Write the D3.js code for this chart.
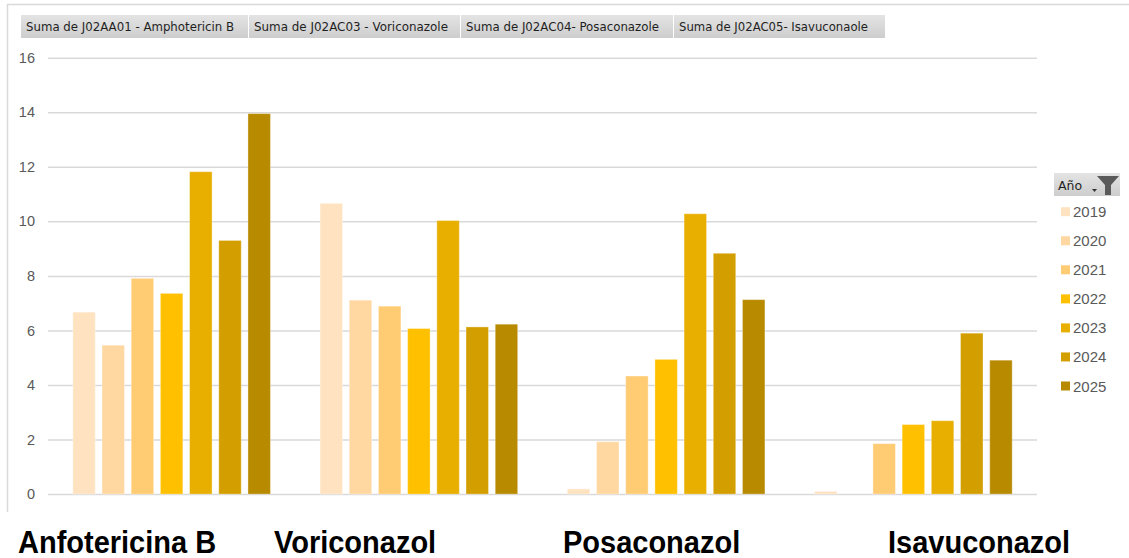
<!DOCTYPE html>
<html>
<head>
<meta charset="utf-8">
<script src="https://cdn.jsdelivr.net/npm/d3@7"></script>
<style>
  html, body { margin: 0; padding: 0; background: #fff; }
  svg { display: block; }
</style>
</head>
<body>
<svg id="chart" width="1129" height="558"></svg>
<script>
// ---- data ----
const categories = ["Anfotericina B", "Voriconazol", "Posaconazol", "Isavuconazol"];
const fieldButtons = ["Suma de J02AA01 - Amphotericin B", "Suma de J02AC03 - Voriconazole", "Suma de J02AC04- Posaconazole", "Suma de J02AC05- Isavuconaole"];
const years = ["2019", "2020", "2021", "2022", "2023", "2024", "2025"];
const v2019 = [6.67, 10.66, 0.19, 0.10];
const v2020 = [5.46, 7.11, 1.92, 0];
const v2021 = [7.91, 6.89, 4.33, 1.85];
const v2022 = [7.36, 6.07, 4.94, 2.55];
const v2023 = [11.82, 10.03, 10.28, 2.69];
const v2024 = [9.30, 6.13, 8.83, 5.90];
const v2025 = [13.95, 6.23, 7.13, 4.91];
const yTicks = [0, 2, 4, 6, 8, 10, 12, 14, 16];
const legendTitle = "Año";

const seriesValues = [v2019, v2020, v2021, v2022, v2023, v2024, v2025];
const colors = ["#FFE3C1", "#FFD8A1", "#FFCB73", "#FFC000", "#E8AF00", "#D29E00", "#B88A00"];

// ---- layout ----
const svg = d3.select("#chart");
const plot = { left: 48, right: 1037, top: 57.7, bottom: 494.1 };

const y = d3.scaleLinear().domain([0, 16]).range([plot.bottom, plot.top]);
const x0 = d3.scaleBand().domain(categories).range([plot.left, plot.right]).padding(0);
const x1 = d3.scaleBand().domain(years).range([0, x0.bandwidth()])
  .paddingInner(0.23).paddingOuter(0.85);
const color = d3.scaleOrdinal().domain(years).range(colors);

// frame lines
svg.append("line").attr("x1", 7).attr("x2", 1129).attr("y1", 4.5).attr("y2", 4.5)
  .attr("stroke", "#d9d9d9").attr("stroke-width", 1.5);
svg.append("line").attr("x1", 7.5).attr("x2", 7.5).attr("y1", 4).attr("y2", 512)
  .attr("stroke", "#d9d9d9").attr("stroke-width", 1.5);

// field buttons
const defs = svg.append("defs");
const grad = defs.append("linearGradient").attr("id", "btnGrad")
  .attr("x1", 0).attr("y1", 0).attr("x2", 0).attr("y2", 1);
grad.append("stop").attr("offset", "0%").attr("stop-color", "#e4e4e4");
grad.append("stop").attr("offset", "100%").attr("stop-color", "#cdcdcd");

const btnX = [21, 249, 461, 674];
const btnW = [227, 211, 212, 211];
const btnTextW = [208, 194, 193, 189];
const btns = svg.append("g").selectAll("g").data(fieldButtons).join("g");
btns.append("rect")
  .attr("x", (d, i) => btnX[i]).attr("y", 15).attr("width", (d, i) => btnW[i]).attr("height", 23)
  .attr("fill", "url(#btnGrad)");
btns.append("text")
  .attr("x", (d, i) => btnX[i] + 5).attr("y", 31)
  .attr("font-family", "DejaVu Sans, Verdana, sans-serif").attr("font-size", 11.5)
  .attr("fill", "#1f1f1f")
  .attr("textLength", (d, i) => btnTextW[i]).attr("lengthAdjust", "spacingAndGlyphs")
  .text(d => d);

// grid lines
const yAxis = d3.axisLeft(y).tickValues(yTicks).tickSize(-(plot.right - plot.left)).tickPadding(13);
const gy = svg.append("g").attr("transform", `translate(${plot.left},0)`).call(yAxis);
gy.select(".domain").remove();
gy.selectAll(".tick line").attr("stroke", "#d9d9d9").attr("stroke-width", 1.5);
gy.selectAll(".tick text").attr("font-family", "Liberation Sans, Arial, sans-serif")
  .attr("font-size", 14.5).attr("fill", "#595959");

// bars
const groups = svg.append("g").selectAll("g").data(categories).join("g")
  .attr("transform", d => `translate(${x0(d)},0)`);
groups.selectAll("rect")
  .data((c, ci) => years.map((yr, si) => ({ year: yr, value: seriesValues[si][ci] })))
  .join("rect")
  .attr("x", d => x1(d.year))
  .attr("width", x1.bandwidth())
  .attr("y", d => y(d.value))
  .attr("height", d => y(0) - y(d.value))
  .attr("fill", d => color(d.year))
  .attr("stroke", "#ffffff").attr("stroke-opacity", 0.35).attr("stroke-width", 1)
  .style("display", d => d.value > 0 ? null : "none");

// legend
const lg = svg.append("g");
lg.append("rect").attr("x", 1054).attr("y", 173).attr("width", 66).attr("height", 23)
  .attr("fill", "url(#btnGrad)");
lg.append("text").attr("x", 1058).attr("y", 190)
  .attr("font-family", "DejaVu Sans, Verdana, sans-serif").attr("font-size", 12.5)
  .attr("fill", "#1f1f1f").text(legendTitle);
lg.append("path").attr("d", "M1092,189 L1097,189 L1094.5,192 Z").attr("fill", "#333");
lg.append("path").attr("d", "M1097,176 L1119,176 L1111,185 L1111,195 L1105,195 L1105,185 Z")
  .attr("fill", "#5a5a5a");

const items = lg.selectAll("g.item").data(years).join("g").attr("class", "item")
  .attr("transform", (d, i) => `translate(1061,${211.7 + i * 29.05})`);
items.append("rect").attr("x", 0).attr("y", -4.5).attr("width", 9).attr("height", 9)
  .attr("fill", d => color(d));
items.append("text").attr("x", 12).attr("y", 5.5)
  .attr("font-family", "Liberation Sans, Arial, sans-serif").attr("font-size", 15)
  .attr("fill", "#595959").text(d => d);

// bottom category labels (placed text boxes)
const labelX = [18, 274, 563, 888];
svg.append("g").selectAll("text").data(categories).join("text")
  .attr("transform", (d, i) => `translate(${labelX[i]},553) scale(1,1.08)`)
  .attr("font-family", "Liberation Sans, Arial, sans-serif").attr("font-weight", "bold")
  .attr("font-size", 29).attr("fill", "#000")
  .text(d => d);
</script>
</body>
</html>
